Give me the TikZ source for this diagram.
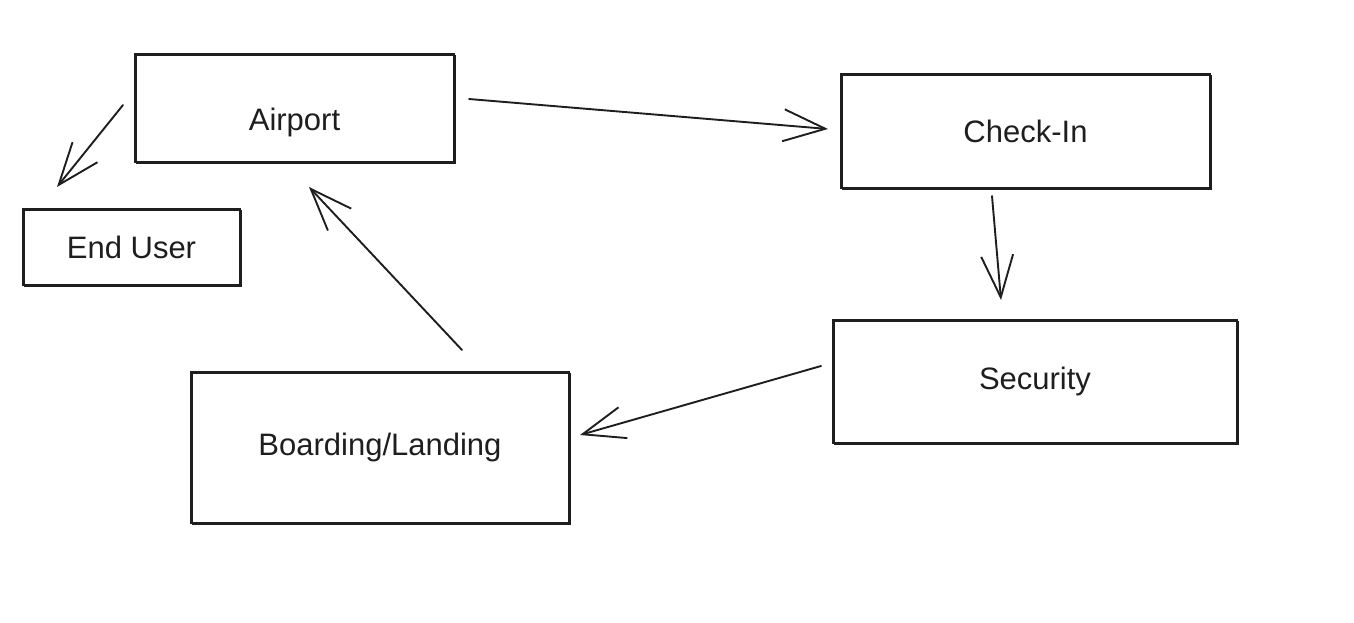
\documentclass[tikz,border=0pt]{standalone}
\usepackage{fontspec}
\setmainfont{Liberation Sans}
\usetikzlibrary{arrows.meta}
\definecolor{ink}{HTML}{1E1E1E}
\begin{document}
\begin{tikzpicture}[x=1pt,y=-1pt,
  lbl/.style={font=\fontsize{31}{36}\selectfont, text=ink},
  box/.style={draw=ink, line width=1.6pt, inner sep=0pt, outer sep=0pt, lbl,
    postaction={draw=ink, line width=0.6pt, transform canvas={shift={(0.8pt,-0.8pt)}}}},
  flow/.style={draw=ink, line width=1.9pt, line cap=round,
    -{Straight Barb[length=42pt,width=32pt,line width=1.9pt]}}
]
\useasboundingbox (0,0) rectangle (1354,622);

% boxes
\node[box, minimum width=319pt, minimum height=108pt,
  label={[lbl, yshift=-14pt]center:Airport}]
  (air) at (294.5,108) {};
\node[box, minimum width=369pt, minimum height=114pt] (chk) at (1025.5,131) {Check-In};
\node[box, minimum width=217pt, minimum height=76pt] (usr) at (131.5,247) {End User};
\node[box, minimum width=404pt, minimum height=123pt] (sec) at (1035,381.5) {Security};
\node[box, minimum width=378pt, minimum height=151pt] (brd) at (380,447.5) {Boarding/Landing};

% connectors
\draw[flow] ([xshift=15pt,yshift=9pt]air.east) -- ([xshift=-13pt,yshift=2pt]chk.west);
\draw[flow] ([xshift=-12pt,yshift=3pt]air.west) -- ([xshift=34pt,yshift=22pt]usr.north west);
\draw[flow] ([xshift=-33.5pt,yshift=-8pt]chk.south) -- ([xshift=-34pt,yshift=20pt]sec.north);
\draw[flow] ([xshift=-12pt,yshift=15.5pt]sec.west) -- ([xshift=11pt,yshift=12.5pt]brd.east);
\draw[flow] ([xshift=82pt,yshift=22pt]brd.north) -- ([xshift=14.5pt,yshift=-25pt]air.south);
\end{tikzpicture}
\end{document}
